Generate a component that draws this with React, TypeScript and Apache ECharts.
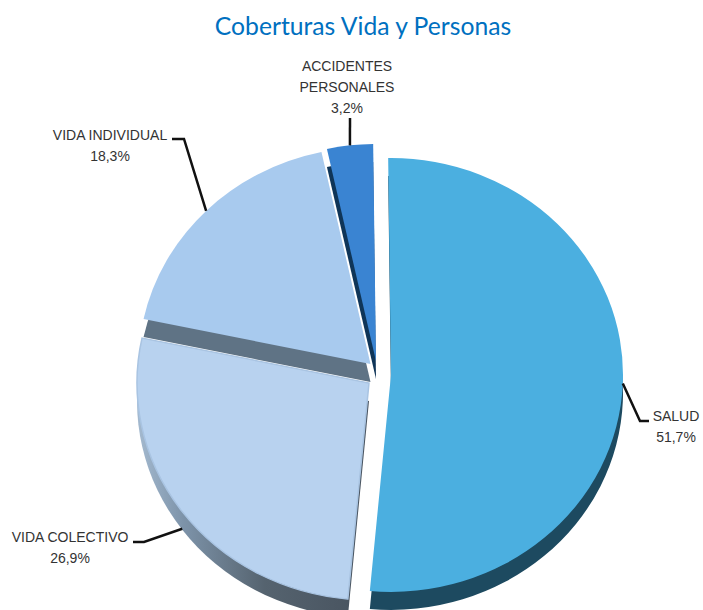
import React, { useEffect, useRef } from "react";
import * as echarts from "echarts";

const titleText = "Coberturas Vida y Personas";
const categories = ["SALUD", "VIDA COLECTIVO", "VIDA INDIVIDUAL", "ACCIDENTES\nPERSONALES"];
const shares = [51.7, 26.9, 18.3, 3.2];

const topColors = ["#4bafe0", "#b8d2ef", "#a8caee", "#3a84d2"];
const edgeWidths = [0, 1.5, 0, 0];
const depthColors: any[] = [
  "#1d4a60",
  new echarts.graphic.LinearGradient(0, 0, 1, 0, [
    { offset: 0, color: "#a4bad0" },
    { offset: 0.2, color: "#7d93a9" },
    { offset: 0.55, color: "#55636f" },
    { offset: 1, color: "#47525e" },
  ]),
  "#5f7385",
  "#0f3558",
];
// Each slice is pulled away from the centre: where its apex sits on the page.
const apexes = [[391, 375], [369, 383], [370.5, 364], [376, 361]];
// Leader: elbow and text, relative to the page; the line starts on the slice's rim.
const leaders = [
  { elbow: [640, 421], end: [649, 421], text: [676, 426], rimDrop: 0 },
  { elbow: [144, 542], end: [133, 542], text: [70, 547], rimDrop: 17 },
  { elbow: [184, 139], end: [172, 139], text: [110, 145], rimDrop: 0 },
  { elbow: [350, 118], end: [350, 118], text: [347, 87], rimDrop: 0 },
];
const drawOrder = [2, 3, 1, 0];
const RX = 232;
const RY = 217;
const DEPTH = 18;
const ROTATION = (-0.7 * Math.PI) / 180;

const total = shares.reduce((a, b) => a + b, 0);
const startOf = (i: number) =>
  ROTATION + (shares.slice(0, i).reduce((a, b) => a + b, 0) / total) * Math.PI * 2;

const formatShare = (v: number) => v.toFixed(1).replace(".", ",") + "%";

function renderSlice(params: any, api: any) {
  const i = params.dataIndex;
  const value = api.value(0) as number;
  const from = startOf(i);
  const sweep = (value / total) * Math.PI * 2;
  const [ax, ay] = apexes[i];
  const rank = drawOrder.indexOf(i);
  const shape = {
    cx: 0,
    cy: 0,
    r: RX,
    r0: 0,
    startAngle: from - Math.PI / 2,
    endAngle: from + sweep - Math.PI / 2,
    clockwise: true,
  };
  const mid = from + sweep / 2;
  const lead = leaders[i];
  const rim = [ax + RX * Math.sin(mid), ay - RY * Math.cos(mid) + lead.rimDrop];
  return {
    type: "group",
    children: [
      {
        type: "sector",
        x: ax,
        y: ay + DEPTH,
        scaleY: RY / RX,
        shape,
        z2: rank * 2,
        style: { fill: depthColors[i] },
      },
      {
        type: "sector",
        x: ax,
        y: ay,
        scaleY: RY / RX,
        shape,
        z2: rank * 2 + 1,
        style: {
          fill: topColors[i],
          stroke: edgeWidths[i] ? "#a9c4e2" : undefined,
          lineWidth: edgeWidths[i],
        },
      },
      {
        type: "polyline",
        z2: 20,
        shape: { points: [rim, lead.elbow, lead.end] },
        style: { stroke: "#111111", lineWidth: 2.5, fill: "none" },
      },
      {
        type: "text",
        z2: 20,
        x: lead.text[0],
        y: lead.text[1],
        style: {
          text: api.value(1) + "\n" + formatShare(value),
          fill: "#333333",
          fontFamily: "Liberation Sans",
          fontSize: 14,
          lineHeight: 21,
          align: "center",
          verticalAlign: "middle",
        },
      },
    ],
  };
}

export default function App() {
  const ref = useRef<HTMLDivElement>(null);
  useEffect(() => {
    document.body.style.margin = "0";
    const chart = echarts.init(ref.current!, null, { renderer: "svg" });
    chart.setOption({
      animation: false,
      backgroundColor: "#ffffff",
      title: {
        text: titleText,
        left: 358,
        top: 8,
        textAlign: "center",
        textStyle: { color: "#0070c0", fontFamily: "Lato", fontSize: 24.7, fontWeight: "normal" },
      },
      series: [
        {
          type: "custom",
          coordinateSystem: "none",
          silent: true,
          clip: false,
          encode: { value: 0 },
          dimensions: ["share", { name: "category", type: "ordinal" }],
          data: categories.map((name, i) => [shares[i], name]),
          renderItem: renderSlice,
        },
      ],
    });
    return () => chart.dispose();
  }, []);
  return <div ref={ref} style={{ width: 703, height: 610, overflow: "hidden" }} />;
}
